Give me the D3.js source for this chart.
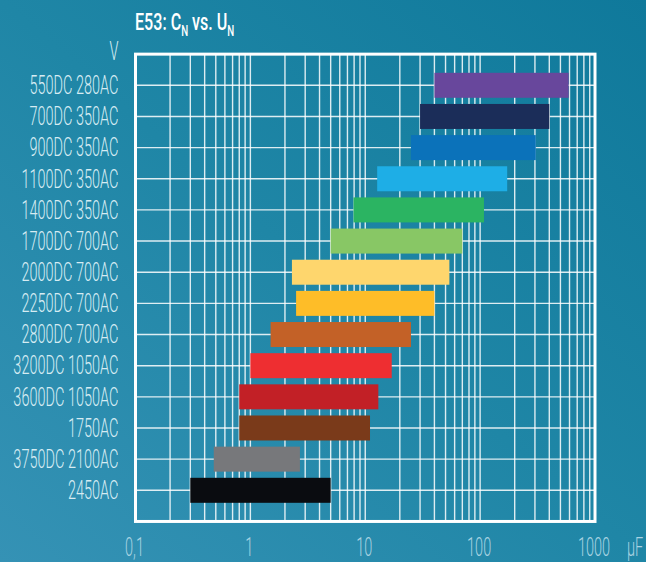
<!DOCTYPE html>
<html><head><meta charset="utf-8">
<script src="https://cdn.jsdelivr.net/npm/d3@7"></script>
<style>html,body{margin:0;padding:0;overflow:hidden;}svg{display:block;}</style>
</head><body>
<script>
const categories = ["550DC 280AC","700DC 350AC","900DC 350AC","1100DC 350AC","1400DC 350AC","1700DC 700AC","2000DC 700AC","2250DC 700AC","2800DC 700AC","3200DC 1050AC","3600DC 1050AC","1750AC","3750DC 2100AC","2450AC"];
const minC = [40,30,25,12.7,7.9,5,2.3,2.5,1.5,1,0.8,0.8,0.48,0.3];
const maxC = [590,400,305,172,108,70,54,40,25,17,13,11,2.7,5];
const colors = ["#68479c","#1b2d59","#0b72ba","#1eaee6","#2bb462","#88c765","#fed66d","#febd28","#c36127","#ee2e31","#c22026","#7a3a1a","#77787b","#0a0c10"];
const tickValues = [0.1,1,10,100,1000];
const tickLabels = ["0,1","1","10","100","1000"];

(function(){
const W=646,H=562;
const svg=d3.select("body").append("svg").attr("width",W).attr("height",H);
const defs=svg.append("defs");
const g=defs.append("linearGradient").attr("id","bg").attr("x1","0").attr("y1","1").attr("x2","1").attr("y2","0");
g.append("stop").attr("offset","0").attr("stop-color","#3592b5");
g.append("stop").attr("offset","0.5").attr("stop-color","#1f86a6");
g.append("stop").attr("offset","1").attr("stop-color","#0f799b");
svg.append("rect").attr("width",W).attr("height",H).attr("fill","url(#bg)");

const x=d3.scaleLog().domain([0.1,1000]).range([135.5,595]);
const y=d3.scalePoint().domain(categories).range([85.3,490.3]);
const step=y.step();
const yTop=y(categories[0])-step, yBot=y(categories[categories.length-1])+step;
const xL=x(0.1), xR=x(1000);

const minor=[];
for(let d=-1;d<3;d++){for(let k=1;k<10;k++){const v=k*Math.pow(10,d); if(v>0.1&&v<1000) minor.push(v);}}
const grid=svg.append("g");
grid.selectAll("line.v").data(minor).join("line").attr("class","v")
  .attr("x1",d=>x(d)).attr("x2",d=>x(d)).attr("y1",yTop).attr("y2",yBot)
  .attr("stroke","#fff").attr("stroke-opacity",0.85).attr("stroke-width",1.4);
grid.selectAll("line.h").data(categories).join("line").attr("class","h")
  .attr("x1",xL).attr("x2",xR).attr("y1",d=>y(d)).attr("y2",d=>y(d))
  .attr("stroke","#fff").attr("stroke-opacity",0.85).attr("stroke-width",1.4);

const bh=25;
svg.append("g").selectAll("rect").data(categories).join("rect")
  .attr("x",(d,i)=>x(minC[i])).attr("width",(d,i)=>x(maxC[i])-x(minC[i]))
  .attr("y",d=>y(d)-bh/2).attr("height",bh).attr("fill",(d,i)=>colors[i]);

svg.append("rect").attr("x",xL).attr("y",yTop).attr("width",xR-xL).attr("height",yBot-yTop)
  .attr("fill","none").attr("stroke","#fff").attr("stroke-width",3);

const FONT="Roboto, 'Liberation Sans', sans-serif";
function ctext(parent,tx,ty,str,anchor,size,sx,fill,weight){
  const gg=parent.append("g").attr("transform",`translate(${tx},${ty}) scale(${sx},1)`);
  return gg.append("text").attr("text-anchor",anchor)
    .attr("font-family",FONT).attr("font-size",size).attr("font-weight",weight||300)
    .attr("fill",fill).text(str);
}
const lab=svg.append("g");
categories.forEach(c=>{ctext(lab,118.5,y(c)+8.8,c,"end",25,0.58,"#d6ecf3");});
ctext(lab,118.5,yTop+5.5,"V","end",25,0.58,"#d6ecf3");

const xl=svg.append("g");
tickValues.forEach((v,i)=>{ctext(xl,x(v)-1,556,tickLabels[i],"middle",25,0.58,"#a9d3e2");});
ctext(xl,627,556,"\u00b5F","start",25,0.58,"#a9d3e2");

const tg=svg.append("g").attr("transform","translate(135,29.5) scale(0.7,1)");
const tt=tg.append("text").attr("font-family",FONT).attr("font-size",23).attr("font-weight",500).attr("fill","#fff");
tt.append("tspan").text("E53: C");
tt.append("tspan").attr("font-size",14).attr("dy",6).text("N");
tt.append("tspan").attr("dy",-6).text(" vs. U");
tt.append("tspan").attr("font-size",14).attr("dy",6).text("N");
})();
</script>
</body></html>
